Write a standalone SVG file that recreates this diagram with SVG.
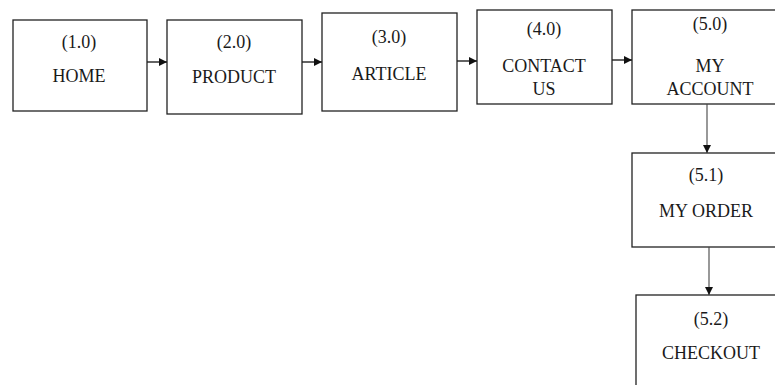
<svg xmlns="http://www.w3.org/2000/svg" width="775" height="385" viewBox="0 0 775 385">
  <defs>
    <marker id="arrow" viewBox="0 0 10 10" refX="10" refY="5" markerWidth="9" markerHeight="8" markerUnits="userSpaceOnUse" orient="auto">
      <path d="M0,0 L10,5 L0,10 Z" fill="#111"/>
    </marker>
  </defs>
  <style>
    .box { fill: #fff; stroke: #222; stroke-width: 1.3; }
    .lbl { font-family: "Liberation Serif", "Times New Roman", serif; font-size: 18px; fill: #1a1a1a; text-anchor: middle; }
    .link { stroke: #222; stroke-width: 1.4; fill: none; marker-end: url(#arrow); }
    .link-v { stroke: #444; stroke-width: 1.1; fill: none; marker-end: url(#arrow); }
  </style>
  <rect width="775" height="385" fill="#fff"/>

  <!-- page nodes -->
  <g id="home">
    <rect class="box" x="13" y="20" width="134" height="91"/>
    <text class="lbl" x="79" y="48">(1.0)</text>
    <text class="lbl" x="79" y="82">HOME</text>
  </g>
  <g id="product">
    <rect class="box" x="167" y="20" width="135" height="94"/>
    <text class="lbl" x="234" y="48">(2.0)</text>
    <text class="lbl" x="234" y="83">PRODUCT</text>
  </g>
  <g id="article">
    <rect class="box" x="322" y="13" width="135" height="98"/>
    <text class="lbl" x="389" y="43">(3.0)</text>
    <text class="lbl" x="389" y="80">ARTICLE</text>
  </g>
  <g id="contact-us">
    <rect class="box" x="477" y="10" width="135" height="94"/>
    <text class="lbl" x="544" y="35">(4.0)</text>
    <text class="lbl" x="544" y="72">CONTACT</text>
    <text class="lbl" x="544" y="95">US</text>
  </g>
  <g id="my-account">
    <rect class="box" x="632" y="10" width="160" height="94"/>
    <text class="lbl" x="710" y="30">(5.0)</text>
    <text class="lbl" x="710" y="72">MY</text>
    <text class="lbl" x="710" y="95">ACCOUNT</text>
  </g>
  <g id="my-order">
    <rect class="box" x="632" y="153" width="160" height="94"/>
    <text class="lbl" x="706" y="181">(5.1)</text>
    <text class="lbl" x="706" y="217">MY ORDER</text>
  </g>
  <g id="checkout">
    <rect class="box" x="636" y="295" width="160" height="100"/>
    <text class="lbl" x="711" y="325">(5.2)</text>
    <text class="lbl" x="711" y="359">CHECKOUT</text>
  </g>

  <!-- connectors -->
  <g id="links">
    <line class="link" x1="147" y1="62" x2="167" y2="62"/>
    <line class="link" x1="302" y1="62" x2="322" y2="62"/>
    <line class="link" x1="457" y1="61" x2="477" y2="61"/>
    <line class="link" x1="612" y1="60" x2="632" y2="60"/>
    <line class="link-v" x1="707" y1="104" x2="707" y2="153"/>
    <line class="link-v" x1="709" y1="247" x2="709" y2="295"/>
  </g>
</svg>
